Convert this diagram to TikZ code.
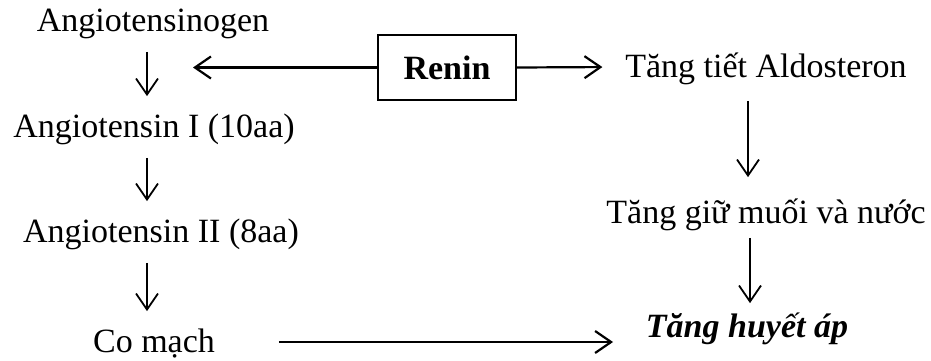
\documentclass[tikz,border=0pt]{standalone}
\usepackage{fontspec}
\setmainfont{Liberation Serif}
\usetikzlibrary{arrows.meta}

\begin{document}
\begin{tikzpicture}[x=1pt,y=-1pt,>={Straight Barb[length=16pt,width=22pt]},line width=1.8pt,
 lbl/.style={font=\fontsize{34}{40}\selectfont,inner sep=12pt,text height=28pt,text depth=8pt,anchor=base},
 box/.style={draw,minimum width=138pt,minimum height=65pt,font=\fontsize{34}{40}\selectfont\bfseries},
 hline/.style={line width=2.2pt}]
 \useasboundingbox (0,0) rectangle (931,360);

 % left column
 \node[lbl] (ang0) at (153,31) {Angiotensinogen};
 \node[lbl] (ang1) at (154,137) {Angiotensin I (10aa)};
 \node[lbl] (ang2) at (161,242) {Angiotensin II (8aa)};
 \node[lbl] (co) at (154,352) {Co mạch};

 % renin and right column
 \node[box] (renin) at (447,67.5) {Renin};
 \node[lbl] (ald) at (766,77) {Tăng tiết Aldosteron};
 \node[lbl] (muoi) at (766,223) {Tăng giữ muối và nước};
 \node[lbl,font=\fontsize{34}{40}\selectfont\bfseries\itshape] (tha) at (747,337) {Tăng huyết áp};
 \coordinate (tipL) at (193,67.5);

 % arrows
 \path[->]
 ([xshift=-6pt]ang0.south) edge ([xshift=-7pt]ang1.north)
 ([xshift=-7pt]ang1.south) edge ([xshift=-14pt]ang2.north)
 ([xshift=-14pt]ang2.south) edge ([xshift=-7pt]co.north)
 (renin.west) edge [hline] (tipL)
 (renin.east) edge [hline,shorten >=10pt] (ald.west)
 ([xshift=-18pt]ald.south) edge [shorten <=3pt,shorten >=5pt] ([xshift=-18pt]muoi.north)
 ([xshift=-16pt]muoi.south) edge [shorten <=-6pt,shorten >=-7pt] ([xshift=3pt]tha.north)
 (co.east) edge [hline,shorten <=51pt,shorten >=20pt] (co.east -| tha.west);
\end{tikzpicture}
\end{document}
